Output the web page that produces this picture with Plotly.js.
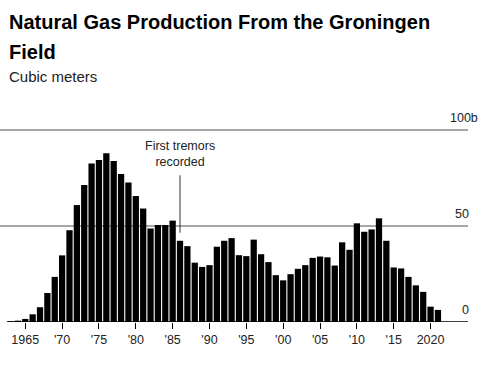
<!DOCTYPE html>
<html>
<head>
<meta charset="utf-8">
<script src="https://cdn.plot.ly/plotly-3.0.1.min.js"></script>
<style>html,body{margin:0;padding:0;background:#fff;}#chart{width:493px;height:370px;}</style>
</head>
<body>
<div id="chart"></div>
<script>
// Data (billion cubic meters)
const years = [1963,1964,1965,1966,1967,1968,1969,1970,1971,1972,1973,1974,1975,1976,1977,1978,1979,1980,1981,1982,1983,1984,1985,1986,1987,1988,1989,1990,1991,1992,1993,1994,1995,1996,1997,1998,1999,2000,2001,2002,2003,2004,2005,2006,2007,2008,2009,2010,2011,2012,2013,2014,2015,2016,2017,2018,2019,2020,2021];
const production = [0.4,0.7,1.6,4.0,7.7,15.1,23.5,34.7,47.8,60.9,71.3,82.6,84.4,87.9,83.9,77.1,72.7,65.6,59.1,48.7,50.5,50.5,52.8,42.3,39.5,30.9,28.7,29.6,39.2,42.3,43.7,34.8,34.3,42.9,35.3,31.2,24.4,21.7,24.9,27.7,29.6,33.4,34.1,33.7,29.4,41.5,37.6,51.4,47.0,48.2,54.0,42.3,28.4,27.9,23.5,19.1,15.7,8.0,6.3];
const tickYears = [1965,1970,1975,1980,1985,1990,1995,2000,2005,2010,2015,2020];
const tickLabels = ["1965","'70","'75","'80","'85","'90","'95","'00","'05","'10","'15","2020"];
const gridValues = [50,100];
const yLabelValues = [0,50,100];
const yLabels = ["0","50","100b"];
const tremorYear = 1986;
const titleLine1 = "Natural Gas Production From the Groningen";
const titleLine2 = "Field";
const subtitle = "Cubic meters";

const FONT = "Liberation Sans, Arial, sans-serif";
const plotW = 468, plotTop = 128, plotBottom = 322, plotH = plotBottom - plotTop;
const pxX = px => px / plotW;                       // paper x from pixel offset in plot
const pxY = px => (plotBottom - px) / plotH;        // paper y from absolute page pixel

const annotations = [
  {text: titleLine1, xref:'paper', yref:'paper', x:pxX(7), y:pxY(22), xanchor:'left', yanchor:'middle', showarrow:false, font:{family:FONT, size:20, color:'#000', weight:'bold'}},
  {text: titleLine2, xref:'paper', yref:'paper', x:pxX(7), y:pxY(51.5), xanchor:'left', yanchor:'middle', showarrow:false, font:{family:FONT, size:20, color:'#000', weight:'bold'}},
  {text: subtitle, xref:'paper', yref:'paper', x:pxX(7), y:pxY(76), xanchor:'left', yanchor:'middle', showarrow:false, font:{family:FONT, size:15, color:'#222'}},
  {text: "First tremors<br>recorded", xref:'x', yref:'paper', x:tremorYear, y:pxY(153.5), xanchor:'center', yanchor:'middle', showarrow:false, align:'center', font:{family:FONT, size:12.5, color:'#222'}}
];
yLabels.forEach((lab, i) => {
  const v = yLabelValues[i];
  const isTop = lab.endsWith('b');
  annotations.push({text: lab, xref:'paper', yref:'y', x: isTop ? pxX(448) : pxX(471), y:v, yshift:12.5,
    xanchor: isTop ? 'left' : 'right', yanchor:'middle', showarrow:false, font:{family:FONT, size:12.5, color:'#222'}});
});

const shapes = [
  {type:'line', xref:'x', yref:'y', x0:years[0]-0.45, x1:2025.08, y0:0, y1:0, line:{color:'#000', width:1.3}},
  {type:'line', xref:'x', yref:'y', x0:tremorYear, x1:tremorYear, y0:46.5, y1:76.4, line:{color:'#333', width:1}}
];
gridValues.forEach(v => shapes.push({type:'line', xref:'paper', yref:'y', x0:0, x1:1, y0:v, y1:v, layer:'below', line:{color:'#8a8a8a', width:1.7}}));

const data = [{
  type:'bar', x: years, y: production,
  marker:{color:'#000', line:{width:0}},
  hoverinfo:'x+y', cliponaxis:false
}];

const layout = {
  width:493, height:370,
  margin:{l:0, r:25, t:plotTop, b:370 - plotBottom, pad:0},
  paper_bgcolor:'#fff', plot_bgcolor:'#fff',
  bargap:0.15,
  showlegend:false,
  xaxis:{range:[1961.57, 2025.08], tickmode:'array', tickvals:tickYears, ticktext:tickLabels,
         ticks:'outside', ticklen:6, tickwidth:1, tickcolor:'#000',
         showgrid:false, zeroline:false, showline:false, automargin:false,
         tickfont:{family:FONT, size:12.5, color:'#222'}},
  yaxis:{range:[0, plotH / 1.92], showticklabels:false, ticks:'',
         showgrid:false, zeroline:false, showline:false, automargin:false, fixedrange:true},
  annotations: annotations,
  shapes: shapes
};

Plotly.newPlot('chart', data, layout, {displayModeBar:false, staticPlot:true});
</script>
</body>
</html>
